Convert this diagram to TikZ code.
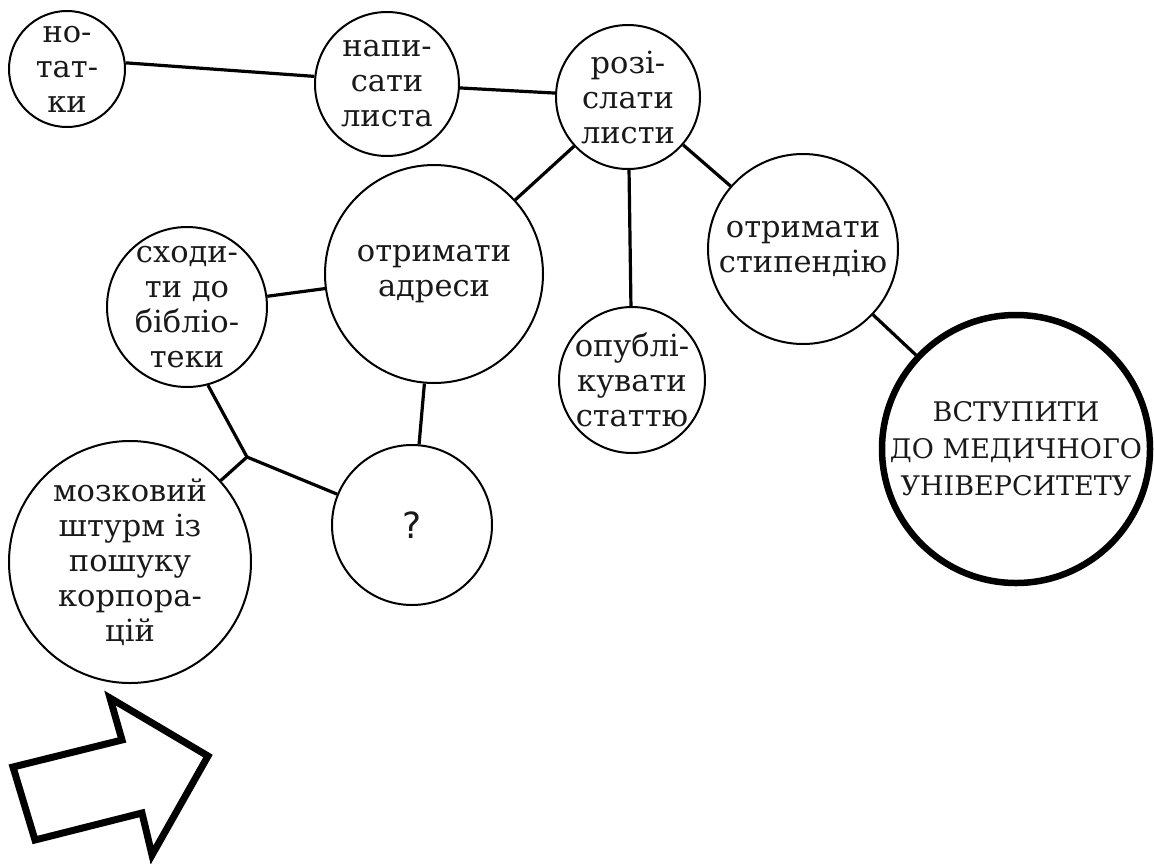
\documentclass[tikz,border=0pt]{standalone}
\usepackage{fontspec}
\setmainfont{DejaVu Serif}
\newfontfamily\qfont{DejaVu Sans}
\begin{document}
\begin{tikzpicture}[x=1pt,y=-1pt,
  bub/.style={circle,draw,line width=2pt,inner sep=0pt},
  txt/.style={align=center,font=\fontsize{30.5}{35}\selectfont,inner sep=0pt,text=black!90},
  big/.style={align=center,font=\fontsize{27}{37}\selectfont,inner sep=0pt,text=black!90},
  link/.style={line width=3.2pt}]
\useasboundingbox (0,0) rectangle (1154,863);

\node[bub,minimum size=116pt,label={[txt]center:но-\\тат-\\ки}] (notatky) at (67,69) {};
\node[bub,minimum size=144pt,label={[txt]center:напи-\\сати\\листа}] (napys) at (387,84) {};
\node[bub,minimum size=144pt,label={[txt]center:розі-\\слати\\листи}] (rozis) at (628,97) {};
\node[bub,minimum size=218pt,label={[txt]center:отримати\\адреси}] (adres) at (434,274) {};
\node[bub,minimum size=160pt,label={[txt]center:сходи-\\ти до\\бібліо-\\теки}] (skhod) at (187,307) {};
\node[bub,minimum size=146pt,label={[txt]center:опублі-\\кувати\\статтю}] (opub) at (632,380) {};
\node[bub,minimum size=190pt,label={[txt]center:отримати\\стипендію}] (styp) at (803,249) {};
\node[bub,line width=6.5pt,minimum size=268pt,label={[big]center:ВСТУПИТИ\\ДО МЕДИЧНОГО\\УНІВЕРСИТЕТУ}] (vstup) at (1016,449) {};
\node[bub,minimum size=160pt,label={[txt,font=\qfont\fontsize{36}{40}\selectfont]center:?}] (q) at (412,525) {};
\node[bub,minimum size=242pt,label={[txt]center:мозковий\\штурм із\\пошуку\\корпора-\\цій}] (mozk) at (130,562) {};
\coordinate (junc) at (247,457);

\draw[link] (notatky.6) -- (napys.174);
\draw[link] (napys) -- (rozis);
\draw[link] (rozis) -- (adres);
\draw[link] (rozis) -- (opub);
\draw[link] (rozis) -- (styp);
\draw[link] (styp) -- (vstup);
\draw[link] (skhod) -- (adres);
\draw[link] (adres) -- (q);
\draw[link] (skhod.-75) -- (junc);
\draw[link] (junc) -- (q);
\draw[link] (junc) -- (mozk);

\draw[line width=7pt,line join=miter]
  (110,698) -- (208,756) -- (152,855) -- (142,813) -- (35,840) -- (13,767) -- (122,740) -- cycle;
\end{tikzpicture}
\end{document}
